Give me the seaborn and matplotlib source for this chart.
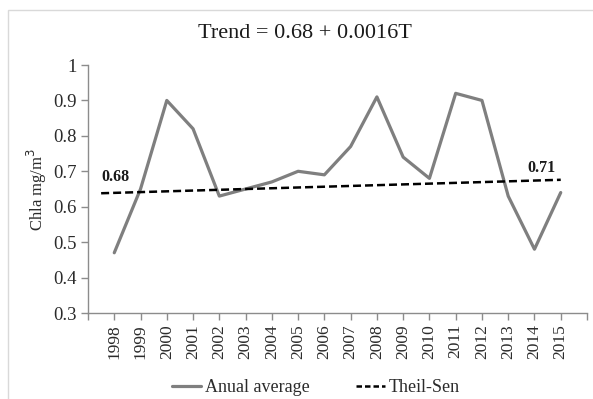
import matplotlib
matplotlib.use("Agg")
import matplotlib.pyplot as plt
import seaborn as sns
import pandas as pd
from matplotlib.patches import Rectangle
from matplotlib.lines import Line2D

years = [1998, 1999, 2000, 2001, 2002, 2003, 2004, 2005, 2006,
         2007, 2008, 2009, 2010, 2011, 2012, 2013, 2014, 2015]
chla = [0.47, 0.65, 0.90, 0.82, 0.63, 0.65, 0.67, 0.70, 0.69,
        0.77, 0.91, 0.74, 0.68, 0.92, 0.90, 0.63, 0.48, 0.64]

# Theil-Sen trend line end points (category positions and values)
trend_x = [-0.5, 17]
trend_y = [0.638, 0.676]
trend_labels = ["0.68", "0.71"]
title_text = "Trend = 0.68 + 0.0016T"

sns.set_theme(style="white")
plt.rcParams["font.family"] = ["Liberation Serif", "DejaVu Serif"]

df = pd.DataFrame({"idx": range(len(years)), "chla": chla})

fig = plt.figure(figsize=(5.93, 3.99), dpi=100)
fig.patches.append(Rectangle((8 / 593, -0.1), 1.2, 1 - 10 / 399 + 0.1,
                             transform=fig.transFigure, fill=False,
                             edgecolor="#d9d9d9", linewidth=1.0))
ax = fig.add_axes([88 / 593, 1 - 313 / 399, (587 - 88) / 593, (313 - 65) / 399])

dash = (0, (3.2, 1.6))
sns.lineplot(data=df, x="idx", y="chla", ax=ax, color="#7f7f7f", linewidth=2.3)
sns.lineplot(x=trend_x, y=trend_y, ax=ax, color="black", linewidth=1.8,
             linestyle=dash)

ax.set_xlim(-1, 18)
ax.set_ylim(0.3, 1.0)
ax.set_xticks(range(-1, 19))
ax.set_xticklabels([""] + [str(y) for y in years] + [""], rotation=90, fontsize=12.5)
ax.set_yticks([0.3, 0.4, 0.5, 0.6, 0.7, 0.8, 0.9, 1.0])
ax.set_yticklabels(["0.3", "0.4", "0.5", "0.6", "0.7", "0.8", "0.9", "1"], fontsize=13.5)
ax.tick_params(axis="both", which="both", direction="out", length=5, width=1,
               color="#8c8c8c", labelcolor="#2b2b2b", bottom=True, left=True, pad=3)
ax.set_xlabel("")
ax.set_ylabel("Chla mg/m$^3$", fontsize=12, color="#2b2b2b", labelpad=3)
for side in ["top", "right"]:
    ax.spines[side].set_visible(False)
for side in ["left", "bottom"]:
    ax.spines[side].set_color("#8c8c8c")
    ax.spines[side].set_linewidth(1.0)

ax.text(trend_x[0], 0.685, trend_labels[0], fontsize=11.5, fontweight="bold",
        ha="left", va="center", color="#1a1a1a")
ax.text(16.8, 0.708, trend_labels[1], fontsize=11.5, fontweight="bold",
        ha="right", va="center", color="#1a1a1a")

fig.text(305 / 593, 1 - 34 / 399, title_text, fontsize=16, ha="center",
         va="center", color="#1a1a1a")

handles = [Line2D([], [], color="#7f7f7f", linewidth=2.3),
           Line2D([], [], color="black", linewidth=1.8, linestyle=(0, (2.2, 1.2)))]
fig.legend(handles, ["Anual average", "Theil-Sen"], loc="center",
           bbox_to_anchor=(316 / 593, 1 - 388 / 399), ncol=2, frameon=False,
           fontsize=13, handlelength=1.6, handletextpad=0.2, columnspacing=2.6,
           labelcolor="#2b2b2b")

fig.savefig("out.png", dpi=100)
